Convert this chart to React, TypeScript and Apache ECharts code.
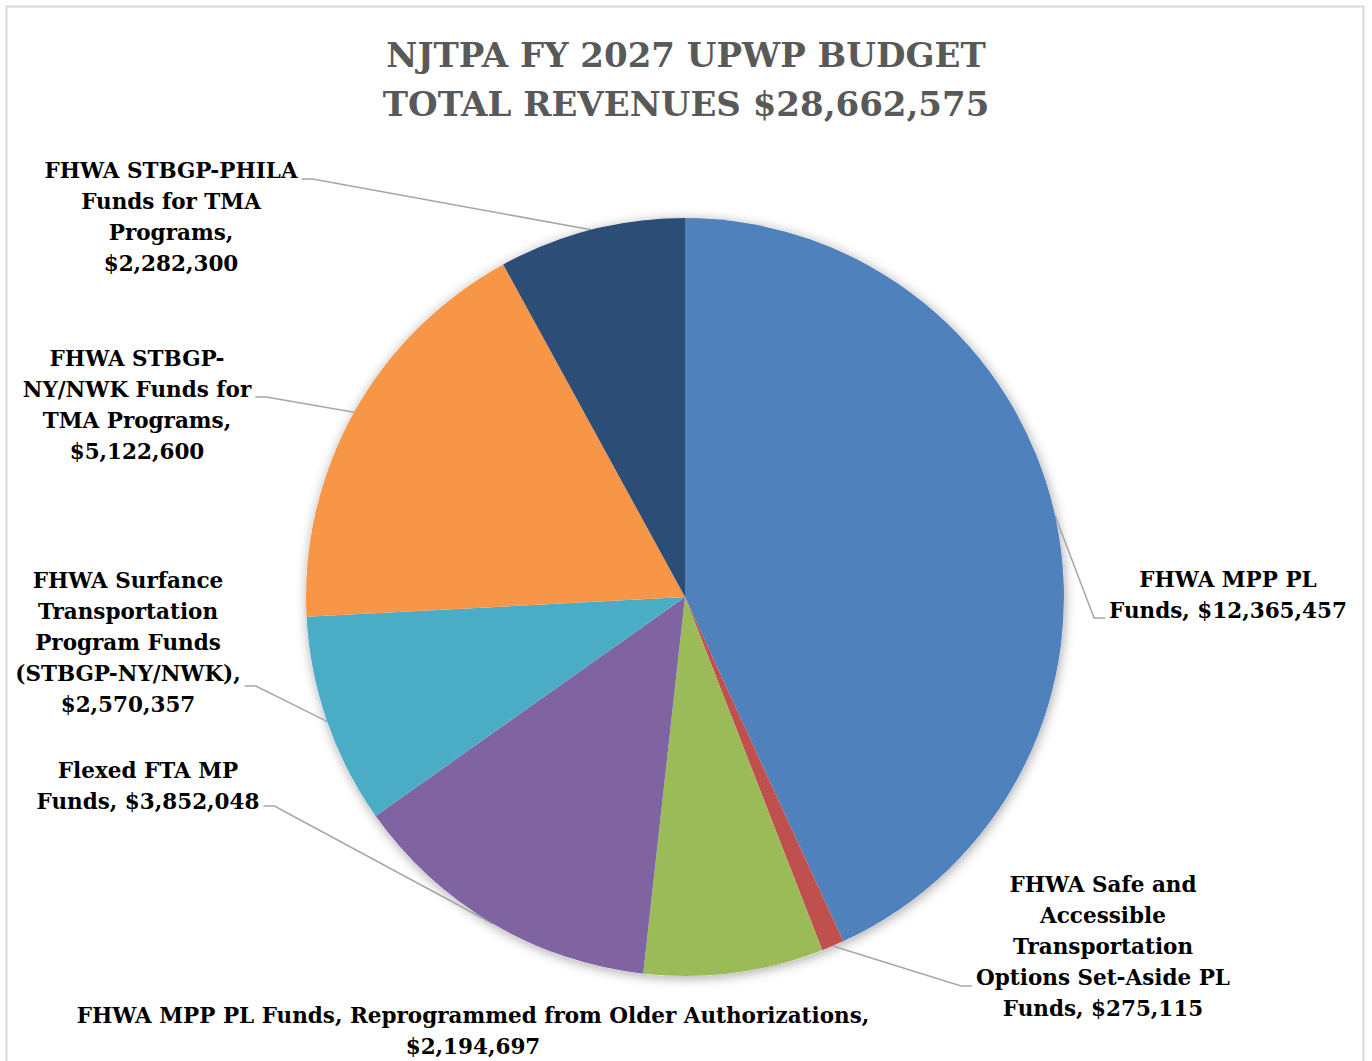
import React, { useEffect, useRef } from "react";
import * as echarts from "echarts";

const titleLines = ["NJTPA FY 2027 UPWP BUDGET", "TOTAL REVENUES $28,662,575"];

const categories = [
  "FHWA MPP PL\nFunds",
  "FHWA Safe and\nAccessible\nTransportation\nOptions Set-Aside PL\nFunds",
  "FHWA MPP PL Funds, Reprogrammed from Older Authorizations,",
  "Flexed FTA MP\nFunds",
  "FHWA Surfance\nTransportation\nProgram Funds\n(STBGP-NY/NWK),",
  "FHWA STBGP-\nNY/NWK Funds for\nTMA Programs,",
  "FHWA STBGP-PHILA\nFunds for TMA\nPrograms,",
];

const values = [12365457, 275115, 2194697, 3852048, 2570357, 5122600, 2282300];

const colors = ["#4F81BD", "#C0504D", "#9BBB59", "#8064A2", "#4BACC6", "#F79646", "#2C4D75"];

// label placement: center x, center y, side of leader line (1 = line on right of label, -1 = left, 0 = none), attach y offset
const labelCX = [1228, 1103, 473, 148, 128, 137, 171];
const labelCY = [595, 946, 1031, 786, 642, 405, 217];
const lineSide = [-1, -1, 0, 1, 1, 1, 1];
const lineDY = [23, 40, 0, 20, 44, -8, -38];

const FONT = "'DejaVu Serif', serif";

function fmt(v: number) {
  return "$" + v.toLocaleString("en-US");
}

function labelText(i: number) {
  const c = categories[i];
  if (i === 0 || i === 1 || i === 3) return c + ", " + fmt(values[i]);
  return c + "\n" + fmt(values[i]);
}

export default function App() {
  const ref = useRef<HTMLDivElement>(null);
  useEffect(() => {
    document.body.style.margin = "0";
    const chart = echarts.init(ref.current!, null, { renderer: "svg" });
    const option: any = {
      animation: false,
      backgroundColor: "#ffffff",
      title: {
        text: titleLines.join("\n"),
        left: "center",
        top: 25,
        textStyle: {
          fontFamily: FONT,
          fontWeight: "bold",
          fontSize: 34,
          lineHeight: 49,
          color: "#595959",
        },
      },
      graphic: [
        {
          type: "rect",
          shape: { x: 6.5, y: 6.5, width: 1357, height: 1100 },
          style: { fill: "none", stroke: "#d9d9d9", lineWidth: 2 },
          silent: true,
        },
      ],
      series: [
        {
          type: "pie",
          silent: true,
          center: [685, 597],
          radius: 379,
          label: { show: false },
          labelLine: { show: false },
          itemStyle: {
            color: "#ffffff",
            shadowBlur: 12,
            shadowColor: "rgba(0,0,0,0.35)",
            shadowOffsetX: 1,
            shadowOffsetY: 2,
          },
          data: [{ value: 1, name: "bg" }],
          z: 1,
        },
        {
          type: "pie",
          center: [685, 597],
          radius: 379,
          startAngle: 90,
          clockwise: true,
          z: 2,
          data: values.map((v, i) => ({
            value: v,
            name: categories[i],
            itemStyle: { color: colors[i] },
            labelLine: { show: lineSide[i] !== 0 },
          })),
          label: {
            show: true,
            position: "outside",
            formatter: (p: any) => labelText(p.dataIndex),
            fontFamily: FONT,
            fontWeight: "bold",
            fontSize: 21.5,
            lineHeight: 31,
            color: "#000000",
            align: "center",
            overflow: "none",
          },
          labelLine: {
            show: true,
            lineStyle: { color: "#a6a6a6", width: 1.5 },
          },
          labelLayout: (params: any) => {
            const i = params.dataIndex;
            const w = params.labelRect.width;
            const x = labelCX[i];
            const y = labelCY[i];
            const res: any = { x, y, align: "center", verticalAlign: "middle" };
            if (lineSide[i] !== 0 && params.labelLinePoints) {
              const anchor = params.labelLinePoints[0];
              const edgeX = x + lineSide[i] * (w / 2 + 4);
              const ly = y + lineDY[i];
              res.labelLinePoints = [
                [anchor[0], anchor[1]],
                [edgeX + lineSide[i] * 11, ly],
                [edgeX, ly],
              ];
            }
            return res;
          },
        },
      ],
    };
    chart.setOption(option);
    return () => chart.dispose();
  }, []);
  return <div ref={ref} style={{ width: 1372, height: 1061 }} />;
}
